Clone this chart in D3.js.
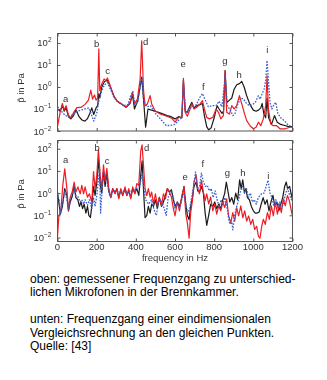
<!DOCTYPE html>
<html>
<head>
<meta charset="utf-8">
<script src="https://cdn.jsdelivr.net/npm/d3@7/dist/d3.min.js"></script>
<style>
  html, body { margin: 0; padding: 0; background: #fff; }
  svg { display: block; }
  .cap { font-family: "Liberation Sans", Arial, sans-serif; font-size: 12px; fill: #000; }
  .ax { font-family: "Liberation Sans", Arial, sans-serif; fill: #333; }
</style>
</head>
<body>
<svg id="chart" width="327" height="380"></svg>
<script>
// Frequency axis
const freqTicks = [0, 200, 400, 600, 800, 1000, 1200];
const decadeTicks = [-2, -1, 0, 1, 2];
const peakNames = ["a", "b", "c", "d", "e", "f", "g", "h", "i"];

// Measured response (top): [frequency in Hz, log10 of amplitude in Pa]
const measBlack = [[0,-1.0],[14,-1.1],[25,-0.85],[34,-1.1],[44,-0.95],[56,-1.35],[68,-1.45],[82,-1.3],[95,-1.05],[110,-1.35],[125,-1.5],[140,-1.55],[152,-1.45],[165,-1.2],[175,-0.95],[185,-1.25],[197,-0.95],[205,-0.85],[211,-0.3],[216,-0.5],[226,0.0],[240,0.25],[255,0.3],[270,0.0],[290,-0.45],[305,-0.65],[330,-0.8],[350,-0.92],[370,-0.75],[383,-0.35],[393,-1.0],[410,-0.6],[422,0.0],[430,0.45],[438,-0.4],[450,-1.83],[462,-1.0],[480,-1.05],[500,-1.1],[530,-1.2],[560,-1.3],[580,-1.35],[600,-1.45],[618,-1.35],[635,-1.4],[643,0.3],[652,-1.1],[663,-1.15],[677,-0.85],[686,-0.7],[697,-0.95],[711,-0.85],[728,-0.8],[740,-0.75],[750,-1.3],[762,-1.8],[772,-1.95],[785,-1.85],[800,-1.4],[815,-0.85],[825,-1.0],[840,-1.2],[848,-1.1],[856,0.74],[864,-0.7],[878,-0.6],[890,-0.5],[902,-0.1],[915,0.1],[929,0.15],[941,0.25],[953,0.0],[966,-0.4],[983,-0.8],[1000,-1.05],[1014,-1.1],[1026,-1.05],[1038,-0.95],[1045,-0.75],[1053,-1.2],[1063,-1.4],[1070,-0.5],[1078,-1.4],[1093,-1.7],[1108,-1.3],[1122,-1.6],[1140,-1.7],[1160,-1.75],[1180,-1.8],[1200,-1.8]];
const measRed = [[0,-1.8],[14,-1.12],[25,-0.75],[34,-1.05],[44,-0.85],[56,-1.28],[68,-1.4],[85,-1.12],[99,-0.94],[119,-0.93],[141,-0.79],[158,-0.6],[170,-0.14],[179,-0.55],[189,-0.36],[197,-0.6],[205,-0.5],[211,1.73],[216,-0.17],[226,0.14],[238,0.36],[247,0.29],[255,0.41],[269,0.06],[286,-0.39],[303,-0.62],[328,-0.77],[350,-0.92],[371,-0.7],[383,-0.24],[393,-0.77],[408,-0.55],[422,0.36],[430,2.1],[439,-0.09],[447,-0.85],[459,-0.77],[473,-0.39],[481,-0.77],[498,-1.08],[524,-1.23],[558,-1.33],[583,-1.42],[600,-1.6],[618,-1.38],[635,-1.38],[643,0.39],[652,-1.15],[663,-1.33],[677,-1.0],[686,-0.77],[697,-1.0],[711,-0.92],[728,-0.77],[740,-0.62],[750,-1.0],[762,-1.38],[776,-1.45],[793,-1.38],[810,-1.0],[822,-1.15],[834,-1.45],[847,-1.3],[856,0.74],[864,-1.15],[878,-1.23],[890,-0.85],[902,-1.0],[915,-0.85],[929,-0.39],[941,-0.77],[953,-1.15],[966,-1.53],[983,-1.76],[1000,-1.9],[1014,-1.83],[1026,-1.6],[1038,-1.76],[1051,-1.45],[1063,-0.85],[1070,0.52],[1077,-1.0],[1089,-1.68],[1102,-1.76],[1119,-1.76],[1136,-1.9],[1162,-1.9],[1187,-1.83],[1200,-1.83]];
const measBlue = [[0,-0.9],[20,-1.1],[40,-1.3],[60,-1.35],[80,-1.25],[100,-1.1],[120,-1.05],[140,-1.0],[160,-0.95],[175,-1.3],[185,-1.55],[200,-1.2],[212,-0.6],[225,-0.2],[240,0.1],[255,0.2],[270,-0.1],[290,-0.5],[310,-0.7],[340,-0.85],[360,-0.8],[375,-0.35],[385,-0.2],[395,-0.8],[410,-0.7],[425,0.2],[432,0.4],[440,-0.6],[455,-0.9],[475,-0.85],[500,-1.2],[530,-1.5],[555,-1.75],[575,-1.75],[600,-1.7],[620,-1.5],[635,-1.4],[643,0.2],[655,-1.2],[670,-1.0],[690,-0.9],[710,-0.8],[725,-0.5],[740,-0.3],[755,-0.6],[770,-0.9],[790,-0.85],[810,-0.85],[825,-0.65],[840,-0.9],[856,0.5],[868,-0.9],[880,-1.0],[895,-1.3],[905,-1.25],[920,-0.8],[935,-0.5],[950,-0.55],[965,-0.75],[980,-0.85],[995,-0.8],[1010,-0.7],[1025,-0.4],[1035,-0.55],[1045,-0.3],[1055,-0.1],[1063,0.3],[1070,1.2],[1078,0.2],[1085,-0.7],[1095,-1.0],[1105,-0.8],[1115,-0.7],[1125,-1.2],[1140,-1.4],[1160,-1.55],[1180,-1.75],[1200,-1.8]];

// One-dimensional model (bottom): [frequency in Hz, log10 of amplitude in Pa]
const calcBlack = [[0,0.05],[8,-0.5],[15,-0.95],[25,-0.6],[37,0.2],[48,-0.1],[56,-0.8],[65,-0.4],[75,-0.15],[85,0.3],[94,-0.2],[104,-0.3],[112,-0.6],[120,-0.4],[128,-0.7],[136,-0.5],[145,-0.9],[153,-0.6],[160,-1.0],[168,-1.1],[175,-0.6],[184,0.3],[192,-0.1],[201,0.5],[209,1.55],[218,0.4],[226,0.0],[235,1.0],[243,0.3],[252,0.9],[262,0.1],[272,-0.2],[282,0.2],[294,0.0],[303,0.2],[313,-0.2],[323,0.15],[333,-0.1],[345,0.2],[354,-0.1],[364,0.1],[374,-0.2],[384,0.2],[395,0.0],[405,0.2],[415,-0.1],[425,0.8],[432,1.45],[439,0.2],[447,-1.1],[456,-1.0],[464,-0.6],[473,-0.9],[481,-0.5],[490,-0.6],[500,-0.3],[510,-0.7],[520,-0.2],[531,-0.6],[541,-0.4],[551,-0.1],[561,0.2],[571,0.05],[582,0.15],[592,-0.3],[600,-0.6],[612,-0.4],[623,-0.6],[635,-0.2],[646,0.3],[655,-0.5],[663,-1.0],[672,-1.2],[680,-0.6],[689,-0.2],[697,0.3],[708,0.5],[716,0.1],[725,0.05],[735,0.3],[745,0.0],[754,-0.9],[762,-1.45],[772,-1.0],[782,-0.5],[793,-0.6],[803,-0.4],[813,-0.7],[823,-0.5],[834,-0.7],[844,-0.3],[854,0.0],[862,0.5],[870,0.1],[880,-0.4],[890,-0.2],[900,-0.5],[910,0.0],[920,-0.3],[930,0.6],[938,0.2],[946,0.6],[955,0.0],[962,0.2],[970,-0.2],[980,-0.3],[990,-0.6],[1000,-0.8],[1010,-0.9],[1020,-0.9],[1030,-0.85],[1040,-0.5],[1050,-0.2],[1060,-0.5],[1070,-0.3],[1080,-0.8],[1090,-0.4],[1100,-0.1],[1110,-0.6],[1120,-0.4],[1130,-0.8],[1140,-0.5],[1150,-0.2],[1160,0.3],[1168,0.5],[1175,0.2],[1185,0.3],[1195,-0.1],[1200,-0.3]];
const calcRed = [[0,-1.95],[7,-1.03],[17,-0.8],[27,0.35],[37,1.09],[48,0.2],[56,-0.8],[65,-0.18],[75,0.05],[85,0.5],[94,0.05],[104,0.28],[116,-0.03],[124,0.35],[133,-0.03],[141,0.28],[153,-0.18],[163,-0.03],[175,-0.41],[184,0.97],[192,0.2],[201,0.81],[209,1.97],[218,0.81],[226,0.2],[235,1.27],[243,0.5],[252,1.12],[262,0.2],[272,-0.18],[282,0.2],[294,-0.03],[303,0.2],[313,-0.26],[323,0.2],[333,-0.11],[345,0.28],[354,-0.11],[364,0.2],[374,-0.26],[384,0.28],[395,-0.03],[405,0.43],[415,0.35],[425,1.89],[432,2.17],[439,1.27],[447,0.2],[456,-0.11],[464,0.2],[473,-0.18],[481,0.05],[490,-0.49],[500,-0.03],[510,-0.57],[520,-0.18],[531,-0.57],[541,-0.03],[551,-0.26],[561,0.2],[571,0.05],[582,-0.18],[589,-0.57],[600,-1.03],[612,-0.41],[623,-0.8],[635,-0.11],[646,0.28],[655,-0.95],[663,-1.34],[672,-2.03],[680,-0.88],[689,-0.34],[697,0.51],[708,0.81],[716,0.2],[725,-0.03],[735,0.58],[745,0.05],[754,-0.34],[762,-0.03],[772,-0.49],[782,-0.18],[793,-0.8],[803,-0.49],[813,-0.95],[823,-0.57],[834,-0.8],[844,-0.41],[854,-0.65],[864,-0.26],[874,-1.03],[885,-1.34],[895,-0.88],[905,-1.26],[915,-0.65],[925,-1.03],[936,-0.57],[946,-1.11],[956,-0.8],[966,-1.26],[976,-1.03],[987,-1.41],[997,-1.18],[1007,-1.64],[1017,-1.49],[1026,-1.95],[1034,-2.03],[1043,-1.49],[1051,-1.18],[1061,-1.41],[1072,-0.88],[1082,-1.18],[1092,-0.57],[1102,-1.03],[1112,-0.41],[1123,-0.95],[1133,-0.49],[1143,-0.88],[1153,-0.26],[1163,-0.57],[1174,-0.11],[1184,-0.34],[1194,-0.8],[1200,-1.03]];
const calcBlue = [[0,-0.18],[8,-0.3],[15,-0.9],[25,-0.5],[37,0.1],[48,-0.3],[56,-0.7],[65,-0.3],[75,-0.1],[85,0.2],[94,-0.1],[104,-0.15],[116,-0.4],[124,-0.3],[133,-0.5],[141,-0.3],[153,-0.55],[163,-0.3],[175,-0.7],[184,-0.2],[192,-0.6],[201,-0.1],[209,0.6],[215,1.1],[220,-0.9],[230,0.5],[240,0.9],[252,0.6],[262,0.0],[272,-0.2],[282,0.1],[300,0.1],[320,0.05],[340,0.1],[360,0.0],[380,0.1],[400,0.2],[420,0.3],[432,0.9],[440,0.3],[450,-0.3],[465,-0.5],[480,-0.3],[495,-0.8],[505,-1.0],[515,-0.4],[530,-0.3],[545,-0.7],[555,-1.0],[565,-0.2],[580,0.1],[592,-0.2],[600,-0.7],[612,-0.4],[623,-0.7],[635,-0.3],[646,0.0],[655,-0.5],[665,-0.9],[675,-0.7],[685,-0.2],[695,0.3],[705,0.95],[715,0.2],[725,0.3],[735,0.9],[745,0.5],[755,0.3],[765,0.35],[775,0.1],[785,0.2],[795,-0.2],[805,0.1],[815,-0.3],[825,-0.6],[835,-0.3],[845,-0.5],[855,-0.2],[865,-0.6],[875,-1.2],[880,-1.4],[890,-1.3],[895,-1.65],[905,-1.0],[915,-0.6],[925,-0.3],[935,0.1],[945,0.3],[955,0.0],[965,0.2],[975,-0.2],[985,0.0],[995,-0.4],[1005,-0.3],[1015,-0.5],[1025,-0.2],[1035,-0.1],[1045,0.0],[1055,0.0],[1065,0.3],[1075,0.58],[1085,0.0],[1095,-0.2],[1105,-0.6],[1115,-0.3],[1125,-0.6],[1135,-0.4],[1145,-0.7],[1155,-0.4],[1165,0.0],[1175,0.2],[1185,-0.1],[1195,-0.3],[1200,-0.4]];

// Peak letters: [frequency in Hz, log10 amplitude of the letter position]
const measPeakPos = [[42,-0.59],[200,1.91],[256,0.69],[450,2.03],[641,1.0],[744,-0.03],[855,1.15],[927,0.5],[1071,1.65]];
const calcPeakPos = [[41,1.45],[203,1.99],[254,1.41],[455,1.99],[652,0.71],[742,1.27],[867,0.89],[947,0.89],[1076,0.77]];

const svg = d3.select("#chart");
const defs = svg.append("defs");
defs.append("filter").attr("id", "soft")
  .append("feGaussianBlur").attr("stdDeviation", 0.5);

const x = d3.scaleLinear().domain([0, 1200]).range([57.5, 292.5]);

const panels = [
  { id: "top", y: d3.scaleLog().domain([1e-2, Math.pow(10, 2.43)]).range([131, 33.5]),
    series: [measBlack, measRed, measBlue], peaks: measPeakPos, xLabels: false, labelY: 88 },
  { id: "bot", y: d3.scaleLog().domain([Math.pow(10, -2.18), Math.pow(10, 2.37)]).range([241.5, 140.5]),
    series: [calcBlack, calcRed, calcBlue], peaks: calcPeakPos, xLabels: true, labelY: 194 }
];

const styles = [
  { stroke: "#1a1a1a", dash: null, width: 1.2 },
  { stroke: "#ee1c24", dash: null, width: 1.2 },
  { stroke: "#3a5fcd", dash: "1.6,1.4", width: 1.3 }
];

const chart = svg.append("g").attr("filter", "url(#soft)");

panels.forEach(p => {
  const y = p.y;
  const [y0, y1] = y.range();
  const g = chart.append("g");

  defs.append("clipPath").attr("id", "clip-" + p.id)
    .append("rect").attr("x", x(0)).attr("y", y1)
    .attr("width", x(1200) - x(0)).attr("height", y0 - y1);

  const line = d3.line()
    .x(d => x(d[0]))
    .y(d => y(Math.pow(10, d[1])));

  const lines = g.append("g").attr("clip-path", `url(#clip-${p.id})`);
  p.series.forEach((s, i) => {
    lines.append("path").datum(s)
      .attr("d", line)
      .attr("fill", "none")
      .attr("stroke", styles[i].stroke)
      .attr("stroke-width", styles[i].width)
      .attr("stroke-linejoin", "round")
      .attr("stroke-dasharray", styles[i].dash);
  });

  // frame
  g.append("rect").attr("x", x(0)).attr("y", y1)
    .attr("width", x(1200) - x(0)).attr("height", y0 - y1)
    .attr("fill", "none").attr("stroke", "#555").attr("stroke-width", 1);

  // inward ticks on all four sides
  const axL = d3.axisLeft(y).tickValues(decadeTicks.map(e => Math.pow(10, e))).tickSizeInner(-3).tickSizeOuter(0).tickFormat("");
  const axR = d3.axisRight(y).tickValues(decadeTicks.map(e => Math.pow(10, e))).tickSizeInner(-3).tickSizeOuter(0).tickFormat("");
  const axB = d3.axisBottom(x).tickValues(freqTicks).tickSizeInner(-3).tickSizeOuter(0).tickFormat("");
  const axT = d3.axisTop(x).tickValues(freqTicks).tickSizeInner(-3).tickSizeOuter(0).tickFormat("");
  [[axL, `translate(${x(0)},0)`], [axR, `translate(${x(1200)},0)`],
   [axB, `translate(0,${y0})`], [axT, `translate(0,${y1})`]].forEach(([a, t]) => {
    const ag = g.append("g").attr("transform", t).call(a);
    ag.select(".domain").remove();
    ag.selectAll("line").attr("stroke", "#555");
  });

  // decade labels 10^n
  decadeTicks.forEach(e => {
    const t = g.append("text").attr("class", "ax")
      .attr("x", x(0) - 6).attr("y", y(Math.pow(10, e)) + 3.5)
      .attr("text-anchor", "end").attr("font-size", 9.5);
    t.append("tspan").text("10");
    t.append("tspan").attr("dy", -4).attr("font-size", 6.5).text(String(e).replace("-", "\u2212"));
  });

  // y label
  g.append("text").attr("class", "ax")
    .attr("transform", `translate(24,${p.labelY}) rotate(-90)`)
    .attr("text-anchor", "middle").attr("font-size", 9.5)
    .text("p\u0302 in Pa");

  // peak letters
  p.peaks.forEach((pk, i) => {
    g.append("text").attr("class", "ax")
      .attr("x", x(pk[0])).attr("y", y(Math.pow(10, pk[1])))
      .attr("text-anchor", "middle").attr("dominant-baseline", "middle")
      .attr("font-size", 9.5).attr("fill", "#222")
      .text(peakNames[i]);
  });

  if (p.xLabels) {
    freqTicks.forEach(f => {
      g.append("text").attr("class", "ax")
        .attr("x", x(f)).attr("y", y0 + 8.5)
        .attr("text-anchor", "middle").attr("font-size", 9.5)
        .text(f);
    });
    g.append("text").attr("class", "ax")
      .attr("x", x(600)).attr("y", y0 + 19)
      .attr("text-anchor", "middle").attr("font-size", 9.5)
      .text("frequency in Hz");
  }
});

// caption
const caption = [
  ["oben: gemessener Frequenzgang zu unterschied-", 282.5],
  ["lichen Mikrofonen in der Brennkammer.", 296],
  ["unten: Frequenzgang einer eindimensionalen", 323],
  ["Vergleichsrechnung an den gleichen Punkten.", 336.5],
  ["Quelle: [43]", 350]
];
svg.selectAll("text.cap").data(caption).join("text")
  .attr("class", "cap")
  .attr("x", 30).attr("y", d => d[1])
  .text(d => d[0]);
</script>
</body>
</html>
